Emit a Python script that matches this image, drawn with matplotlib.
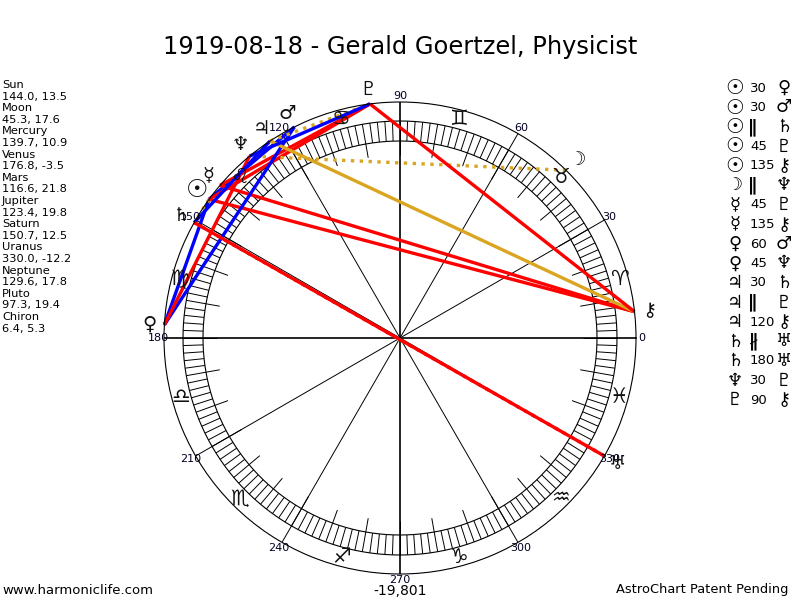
import matplotlib
matplotlib.use("Agg")
import matplotlib.pyplot as plt
import numpy as np

title = "1919-08-18 - Gerald Goertzel, Physicist"

planets = ["Sun", "Moon", "Mercury", "Venus", "Mars", "Jupiter", "Saturn",
           "Uranus", "Neptune", "Pluto", "Chiron"]
glyphs = ["☉", "☽", "☿", "♀", "♂", "♃", "♄", "♅", "♆", "♇", "⚷"]
longitude = [144.0, 45.3, 139.7, 176.8, 116.6, 123.4, 150.7, 330.0, 129.6, 97.3, 6.4]
declination = [13.5, 17.6, 10.9, -3.5, 21.8, 19.8, 12.5, -12.2, 17.8, 19.4, 5.3]

# aspect list (first planet, aspect, second planet)
aspect_a = ["Sun", "Sun", "Sun", "Sun", "Sun", "Moon", "Mercury", "Mercury", "Venus",
            "Venus", "Jupiter", "Jupiter", "Jupiter", "Saturn", "Saturn", "Neptune", "Pluto"]
aspect_kind = ["30", "30", "∥", "45", "135", "∥", "45", "135", "60",
               "45", "30", "∥", "120", "∦", "180", "30", "90"]
aspect_b = ["Venus", "Mars", "Saturn", "Pluto", "Chiron", "Neptune", "Pluto", "Chiron", "Mars",
            "Neptune", "Saturn", "Pluto", "Chiron", "Uranus", "Uranus", "Pluto", "Chiron"]

zodiac = ["♈", "♉", "♊", "♋", "♌", "♍", "♎", "♏", "♐", "♑", "♒", "♓"]
degree_labels = list(range(0, 360, 30))
day_count = "-19,801"

RED, BLUE, GOLD = "#ff0000", "#0000ff", "#daa520"
aspect_style = {
    "30": (BLUE, "-"), "60": (BLUE, "-"), "120": (GOLD, "-"),
    "45": (RED, "-"), "90": (RED, "-"), "135": (RED, "-"), "180": (RED, "-"),
    "∥": (GOLD, ":"), "∦": (RED, ":"),
}

W, H = 800, 600
R = 236          # outer circle, px
CX, CY = 400, 338

fig = plt.figure(figsize=(8, 6), dpi=100)
ax = fig.add_axes([(CX - R) / W, (H - CY - R) / H, 2 * R / W, 2 * R / H],
                  projection="polar")
ax.set_xticks([])
ax.set_yticks([])
ax.grid(False)
ax.spines["polar"].set_linewidth(0.8)

t = np.linspace(0, 2 * np.pi, 721)
for rr in (197, 217):
    ax.plot(t, np.full_like(t, rr), color="black", lw=0.8)

# degree ring
ax.vlines(np.deg2rad(np.arange(0, 360, 2)), 197, 217, colors="black", lw=0.7)
ax.vlines(np.deg2rad(np.arange(0, 360, 10)), 183, 197, colors="black", lw=0.7)

# spokes every 30 deg
spokes = np.array(degree_labels)
ax.vlines(np.deg2rad(spokes[spokes % 90 != 0]), 0, R, colors="black", lw=0.7)
ax.vlines(np.deg2rad(spokes[spokes % 90 == 0]), 0, R, colors="black", lw=1.2)

for d in degree_labels:
    ax.text(np.deg2rad(d), R + 6, str(d), ha="center", va="center",
            fontsize=8, color="#000022")

for i, z in enumerate(zodiac):
    ax.text(np.deg2rad(15 + 30 * i), 227, z, ha="center", va="center",
            fontsize=15, color="#111111")

# aspect lines
lon = dict(zip(planets, longitude))
for a, k, b in zip(aspect_a, aspect_kind, aspect_b):
    col, ls = aspect_style[k]
    ax.plot(np.deg2rad([lon[a], lon[b]]), [R, R], color=col, ls=ls,
            lw=2.4, clip_on=False, solid_capstyle="butt")

for name, g, L in zip(planets, glyphs, longitude):
    big = name == "Sun"
    ax.text(np.deg2rad(L), R + 15, g, ha="center", va="center",
            fontsize=18 if big else 14, fontweight="bold" if big else "normal",
            color="#111111")

ax.set_ylim(0, R)

# title and footer
fig.text(0.5, 1 - 47 / H, title, ha="center", va="center", fontsize=17.4)
fig.text(2 / W, 1 - 590 / H, "www.harmoniclife.com", ha="left", va="center", fontsize=9.5)
fig.text(CX / W, 1 - 591 / H, day_count, ha="center", va="center", fontsize=10)
fig.text(788 / W, 1 - 590 / H, "AstroChart Patent Pending", ha="right", va="center", fontsize=9.4)

# planet positions column
y = 85
for name, L, d in zip(planets, longitude, declination):
    fig.text(2 / W, 1 - y / H, name, ha="left", va="center", fontsize=8.2)
    fig.text(2 / W, 1 - (y + 11.6) / H, f"{L:.1f}, {d:.1f}", ha="left", va="center", fontsize=8.2)
    y += 23.2

# aspect list column
gmap = dict(zip(planets, glyphs))
y = 88
for a, k, b in zip(aspect_a, aspect_kind, aspect_b):
    fig.text(735 / W, 1 - y / H, gmap[a], ha="center", va="center",
             fontsize=15 if a == "Sun" else 13,
             fontweight="bold" if a == "Sun" else "normal")
    if k in ("∥", "∦"):
        fig.text(753 / W, 1 - y / H, k, ha="center", va="center", fontsize=13, fontweight="bold")
    else:
        fig.text(750 / W, 1 - y / H, k, ha="left", va="center", fontsize=9.5)
    fig.text(784 / W, 1 - y / H, gmap[b], ha="center", va="center", fontsize=13)
    y += 19.5

fig.savefig("out.png", dpi=100)
